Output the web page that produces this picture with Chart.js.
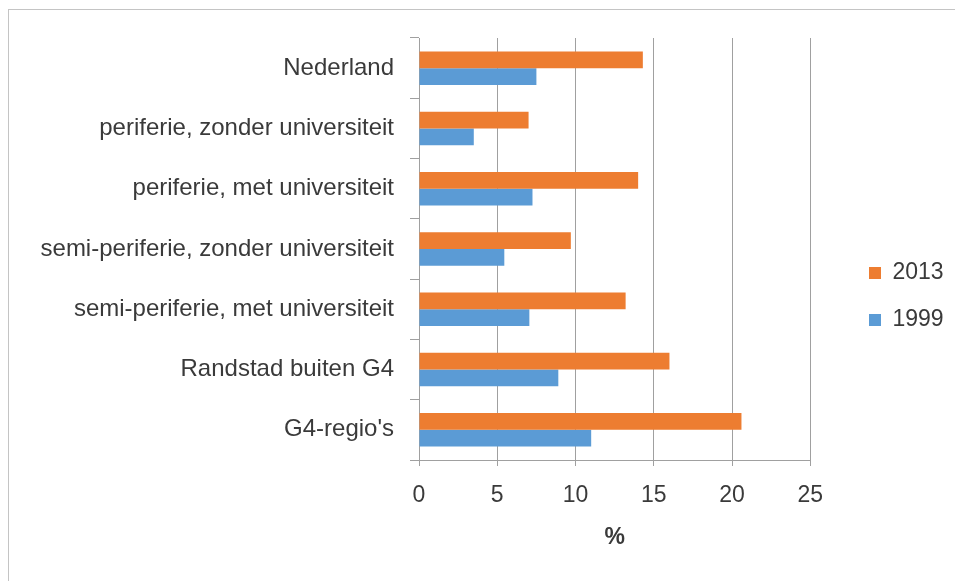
<!DOCTYPE html>
<html>
<head>
<meta charset="utf-8">
<script src="https://cdn.jsdelivr.net/npm/chart.js@4/dist/chart.umd.min.js"></script>
<style>
  html, body { margin: 0; padding: 0; background: #fff; width: 955px; height: 581px; overflow: hidden; }
  #frame { position: absolute; left: 8px; top: 9px; width: 1000px; height: 1000px; border: 1px solid #c4c4c4; box-sizing: border-box; }
  #c { position: absolute; left: 0; top: 0; }
</style>
</head>
<body>
<div id="frame"></div>
<canvas id="c" width="955" height="581"></canvas>
<script>
const categories = [
  "Nederland",
  "periferie, zonder universiteit",
  "periferie, met universiteit",
  "semi-periferie, zonder universiteit",
  "semi-periferie, met universiteit",
  "Randstad buiten G4",
  "G4-regio's"
];
const values2013 = [14.3, 7.0, 14.0, 9.7, 13.2, 16.0, 20.6];
const values1999 = [7.5, 3.5, 7.25, 5.45, 7.05, 8.9, 11.0];
const seriesNames = ["2013", "1999"];
const xTicks = [0, 5, 10, 15, 20, 25];
const xTitle = "%";

const FONT = "'Liberation Sans', Arial, sans-serif";
const TEXT = "#3a3a3a";
const GRID = "#a0a0a0";

// place the legend at the reference spot (right side, vertically centred on the items)
const legendPlacer = {
  id: 'legendPlacer',
  afterLayout(chart) {
    const lg = chart.legend;
    if (!lg) return;
    const dx = 845 - lg.left;
    lg.left += dx; lg.right += dx;
    const pad = lg.options.labels.padding;
    const colH = lg.columnSizes && lg.columnSizes[0] ? lg.columnSizes[0].height : 0;
    const cy = ((lg.top + pad) + (lg.bottom - colH)) / 2;
    const targetY = 261.5;
    const dy = targetY - cy;
    lg.top += dy; lg.bottom += dy;
  }
};

new Chart(document.getElementById('c'), {
  type: 'bar',
  data: {
    labels: categories,
    datasets: [
      { label: seriesNames[0], data: values2013, backgroundColor: '#ED7D31', borderWidth: 0,
        barPercentage: 1.0, categoryPercentage: 0.556 },
      { label: seriesNames[1], data: values1999, backgroundColor: '#5B9BD5', borderWidth: 0,
        barPercentage: 1.0, categoryPercentage: 0.556 }
    ]
  },
  options: {
    indexAxis: 'y',
    responsive: false,
    animation: false,
    devicePixelRatio: 1,
    layout: { padding: { left: 0, top: 38, right: 36, bottom: 0 } },
    plugins: {
      legend: {
        position: 'right',
        labels: {
          boxWidth: 12, boxHeight: 12, padding: 24,
          color: TEXT, font: { family: FONT, size: 23 }
        }
      },
      tooltip: { enabled: false }
    },
    scales: {
      x: {
        min: 0, max: 25,
        afterBuildTicks(scale) { scale.ticks = xTicks.map(v => ({ value: v })); },
        afterFit(scale) { scale.height = 121; },
        grid: { color: GRID, lineWidth: 1, tickLength: 6, drawTicks: true },
        border: { color: GRID, width: 1 },
        ticks: { color: TEXT, font: { family: FONT, size: 23 }, padding: 16, maxRotation: 0 },
        title: { display: true, text: xTitle, color: TEXT,
                 font: { family: FONT, size: 23, weight: 'bold' }, padding: { top: 0, bottom: 30 } }
      },
      y: {
        afterFit(scale) { scale.width = 419; },
        grid: { display: true, drawOnChartArea: false, drawTicks: true, tickLength: 9, color: GRID, offset: true },
        border: { color: GRID, width: 1 },
        ticks: { color: TEXT, font: { family: FONT, size: 24 }, padding: 16, autoSkip: false }
      }
    }
  },
  plugins: [legendPlacer]
});
</script>
</body>
</html>
